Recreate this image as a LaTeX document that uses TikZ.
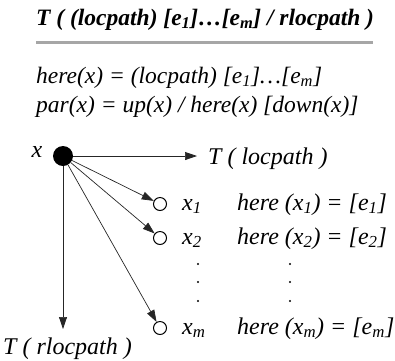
\documentclass[tikz,border=0pt]{standalone}
\usepackage{fontspec}
\setmainfont{LiberationSerif}[Extension=.ttf, UprightFont=*-Regular, ItalicFont=*-Italic, BoldFont=*-Bold, BoldItalicFont=*-BoldItalic]
\usetikzlibrary{arrows.meta}
\newcommand{\sbs}[1]{\textsubscript{#1}}
\begin{document}
\begin{tikzpicture}[x=1pt,y=-1pt,
  txt/.style={inner sep=0pt, anchor=base west, font=\fontsize{24}{28}\selectfont\itshape},
  toptxt/.style={inner sep=0pt, anchor=base west, font=\fontsize{23.5}{28}\selectfont\itshape},
  ttl/.style={inner sep=0pt, anchor=base west, font=\fontsize{23.5}{28}\selectfont\bfseries\itshape},
  conn/.style={line width=0.7pt, black!85, -{Triangle[length=12pt,width=8pt]}},
  hollow/.style={circle, draw, line width=1pt, minimum size=13pt, inner sep=0pt},
  vdot/.style={circle, fill, minimum size=2.4pt, inner sep=0pt},
  rulecol/.style={line width=2.5pt, black!35}]
\useasboundingbox (0,0) rectangle (395,360);
\node[ttl] (title) at (36,25) {T ( (locpath) [e\sbs{1}]…[e\sbs{m}] / rlocpath )};
\coordinate (rl) at (36,42.5);
\coordinate (rr) at (373,42.5);
\draw[rulecol] (rl) -- (rr);
\node[toptxt] (here) at (36,83) {here(x) = (locpath) [e\sbs{1}]…[e\sbs{m}]};
\node[toptxt] (par) at (36,112) {par(x) = up(x) / here(x) [down(x)]};
% root
\node[circle, fill, minimum size=20pt, inner sep=0pt] (x) at (63,156) {};
\node[txt, anchor=base] (xl) at (37,157) {x};
\coordinate (hend) at (197,156);
\coordinate (vend) at (63,329);
\draw[conn] (x) -- (hend);
\draw[conn] (x) -- (vend);
\node[txt] (tl) at (208,164) {T ( locpath )};
\node[txt] (trl) at (3,354) {T ( rlocpath )};
% children
\node[hollow] (c1) at (160,204) {};
\node[hollow] (c2) at (160,238) {};
\node[hollow] (cm) at (160,328) {};
\draw[conn] (x) -- (c1);
\draw[conn] (x) -- (c2);
\draw[conn] (x) -- (cm);
\node[txt] (l1) at (182,210) {x\sbs{1}};
\node[txt] (l2) at (182,244) {x\sbs{2}};
\node[txt] (lm) at (182,334) {x\sbs{m}};
\node[txt] (h1) at (237,210) {here (x\sbs{1}) = [e\sbs{1}]};
\node[txt] (h2) at (237,244) {here (x\sbs{2}) = [e\sbs{2}]};
\node[txt] (hm) at (237,334) {here (x\sbs{m}) = [e\sbs{m}]};
\foreach \yy [count=\i] in {264,282,301}{
  \node[vdot] (dl\i) at (198,\yy) {};
  \node[vdot] (dr\i) at (290,\yy) {};
}
\end{tikzpicture}
\end{document}
